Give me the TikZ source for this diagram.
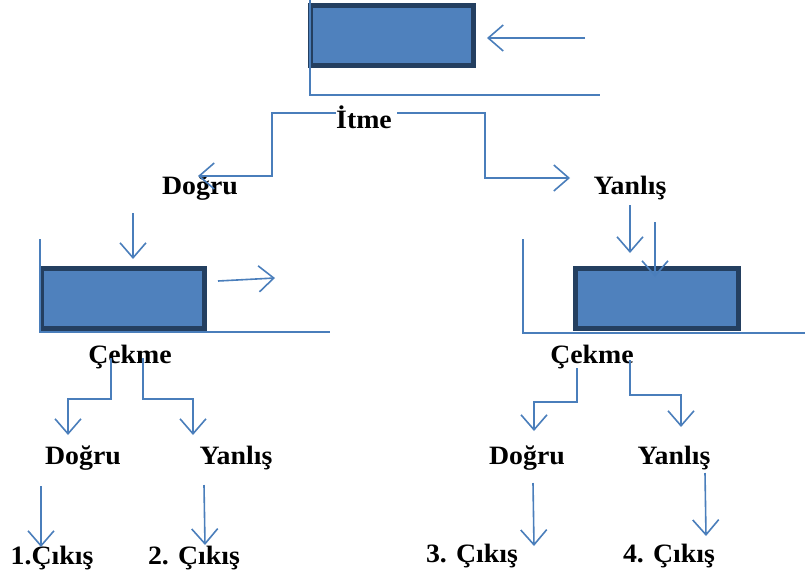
\documentclass[tikz,border=0pt]{standalone}
\usepackage{fontspec}
\setmainfont{Liberation Serif}[FakeStretch=1.05]
\usetikzlibrary{arrows.meta}

\definecolor{flowblue}{HTML}{4A7EBB}
\definecolor{boxfill}{HTML}{4F81BD}
\definecolor{boxedge}{HTML}{243F60}

\tikzset{
  lbl/.style={font=\fontsize{26.5}{30}\selectfont\bfseries, inner sep=0pt, anchor=base},
  blk/.style={draw=boxedge, fill=boxfill, line width=5pt, minimum width=163pt, minimum height=60pt, inner sep=0pt},
  wire/.style={draw=flowblue, line width=1.6pt},
  flow/.style={wire, -{Straight Barb[length=15pt,width=26pt]}}
}

\begin{document}
\begin{tikzpicture}[x=1pt, y=-1pt]
  \useasboundingbox (0,0) rectangle (805,579);

  % blocks
  \node[blk] (boxT) at (392,35) {};
  \node[blk] (boxL) at (122.5,298.5) {};
  \node[blk] (boxR) at (657,298.5) {};

  % texts
  \node[lbl] (itme) at (364,128) {İtme};
  \node[lbl] (dogruT) at (200,194) {Doğru};
  \node[lbl] (yanlisT) at (630,194) {Yanlış};
  \node[lbl] (cekmeL) at (130,363) {Çekme};
  \node[lbl] (cekmeR) at (592,363) {Çekme};
  \node[lbl] (dogruLL) at (83,464) {Doğru};
  \node[lbl] (yanlisLL) at (236,464) {Yanlış};
  \node[lbl] (dogruRL) at (527,464) {Doğru};
  \node[lbl] (yanlisRL) at (674,464) {Yanlış};
  \node[lbl] (cikis1) at (52,564) {1.Çıkış};
  \node[lbl] (cikis2) at (194,564) {2. Çıkış};
  \node[lbl] (cikis3) at (472,562) {3. Çıkış};
  \node[lbl] (cikis4) at (669,562) {4. Çıkış};

  % floor lines
  \draw[wire] (310,0) -- (310,95) -- (600,95);
  \draw[wire] (40,239) -- (40,332) -- (330,332);
  \draw[wire] (523,239) -- (523,333) -- (805,333);

  % forces on the blocks
  \draw[flow] (585,38) -- (487,38);
  \draw[flow] (133,213) -- (133,259);
  \draw[flow] (218,281) -- (275,278);
  \draw[flow] (630,205) -- (630,253);
  \draw[flow] (655,222) -- (655,277);

  % first step
  \draw[flow] (itme.west |- 0,113) -- (272,113) -- (272,176) -- (198,176);
  \draw[flow] (itme.east |- 0,113) ++(5,0) -- (485,113) -- (485,178) -- (570,178);

  % second step, left
  \draw[flow] (111,358) -- (111,399) -- (68,399) -- (68,435);
  \draw[flow] (143,358) -- (143,399) -- (193,399) -- (193,435);
  \draw[flow] (41,486) -- (41,547);
  \draw[flow] (204,485) -- (205,545);

  % second step, right
  \draw[flow] (577,368) -- (577,402) -- (534,402) -- (534,431);
  \draw[flow] (630,360) -- (630,395) -- (681,395) -- (681,427);
  \draw[flow] (533,483) -- (534,546);
  \draw[flow] (705,473) -- (706,536);
\end{tikzpicture}
\end{document}
